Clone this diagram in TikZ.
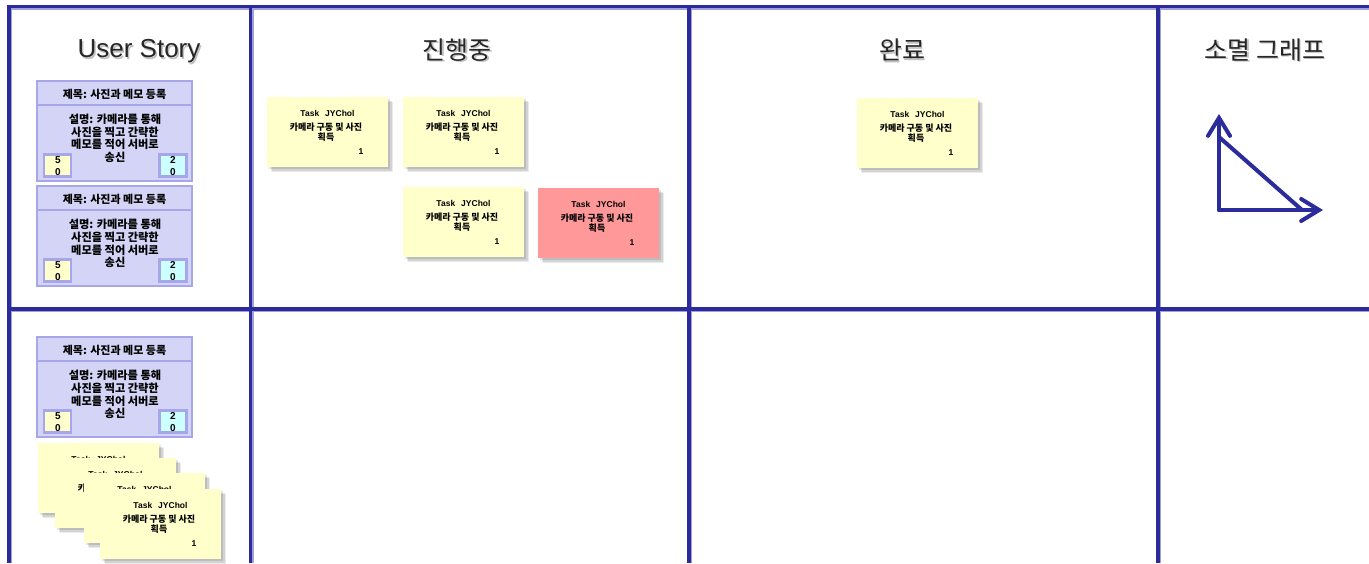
\documentclass[tikz,border=0pt]{standalone}
\usepackage{fontspec}
\setmainfont{Liberation Sans}
\newfontfamily\kr{Noto Sans CJK KR}
\usetikzlibrary{arrows.meta,shadows}
\definecolor{gridblue}{HTML}{2B2B9B}
\definecolor{gridfringe}{HTML}{A0A0DC}
\definecolor{lavfill}{HTML}{D4D4F6}
\definecolor{lavborder}{HTML}{A6A6E8}
\definecolor{noteyellow}{HTML}{FFFFCC}
\definecolor{notecyan}{HTML}{CCFFFF}
\definecolor{notered}{HTML}{FF9999}
\tikzset{
  gridline/.style={draw=gridblue,line width=3.2pt},
  fringeline/.style={draw=gridfringe,line width=1.6pt},
  storybox/.style={rectangle,draw=lavborder,fill=lavfill,line width=2.8pt,minimum width=155pt,minimum height=100pt,inner sep=0pt},
  storytitle/.style={inner sep=0pt,font=\kr\bfseries\fontsize{11}{12}\selectfont},
  storybody/.style={inner sep=0pt,align=center,font=\kr\bfseries\fontsize{11.2}{12.6}\selectfont},
  ptbox/.style={rectangle,draw=lavborder,line width=2.8pt,minimum width=27pt,minimum height=22pt,inner sep=0pt},
  digit/.style={inner sep=0pt,font=\bfseries\fontsize{10}{12}\selectfont},
  taskbox/.style={rectangle,draw=none,minimum width=121pt,minimum height=70pt,inner sep=0pt,
     general shadow={fill=black,opacity=0.10,shadow xshift=2pt,shadow yshift=-2pt},
     general shadow={fill=black,opacity=0.10,shadow xshift=3.5pt,shadow yshift=-3.5pt},
     general shadow={fill=black,opacity=0.08,shadow xshift=5pt,shadow yshift=-5pt}},
  tasktitle/.style={inner sep=0pt,font=\bfseries\fontsize{8.5}{10}\selectfont},
  tasktext/.style={inner sep=0pt,align=center,font=\kr\bfseries\fontsize{9}{9.5}\selectfont},
  header/.style={inner sep=0pt,text=black!85},
  headershadow/.style={inner sep=0pt,text=black!35,opacity=0.7},
  graphline/.style={draw=gridblue,line width=4pt,line cap=round,line join=round},
  graphtip/.style={-{Straight Barb[length=18pt,width=22pt,line cap=round]}}
}
\newcommand\storycard[3]{%
  \node[storybox] (#1) at (#2+77.5,#3+50) {};
  \coordinate (#1-sl) at (#2,#3+24);
  \coordinate (#1-sr) at (#2+155,#3+24);
  \draw[draw=lavborder,line width=2.8pt] (#1-sl) -- (#1-sr);
  \node[storytitle] (#1-title) at (#2+77.5,#3+13) {제목: 사진과 메모 등록};
  \node[storybody] (#1-body) at (#2+78,#3+57.5) {설명: 카메라를 통해\\사진을 찍고 간략한\\메모를 적어 서버로\\송신};
  \node[ptbox,fill=noteyellow] (#1-l) at (#2+20.5,#3+84.5) {};
  \node[ptbox,fill=notecyan] (#1-r) at (#2+136,#3+84.5) {};
  \node[digit] (#1-l1) at (#2+21,#3+79) {5};
  \node[digit] (#1-l2) at (#2+21,#3+91) {0};
  \node[digit] (#1-r1) at (#2+136,#3+79) {2};
  \node[digit] (#1-r2) at (#2+136,#3+91) {0};
}
% full task card
\newcommand\taskcard[4]{%
  \node[taskbox,fill=#4] (#1) at (#2+60.5,#3+35) {};
  \node[tasktitle] (#1-title) at (#2+60.5,#3+16.5) {Task\hspace{6pt}JYChol};
  \node[tasktext] (#1-text) at (#2+59,#3+35) {카메라 구동 및 사진\\획득};
  \node[tasktitle] (#1-num) at (#2+94,#3+55) {1};
}
% partly covered task card: only the visible title
\newcommand\taskcardback[3]{%
  \node[taskbox,fill=noteyellow] (#1) at (#2+60.5,#3+35) {};
  \node[tasktitle] (#1-title) at (#2+60.5,#3+16.5) {Task\hspace{6pt}JYChol};
}
\begin{document}
\begin{tikzpicture}[x=1pt,y=-1pt]
\useasboundingbox (0,0) rectangle (1369,563);
\fill[white] (0,0) rectangle (1369,563);
% grid fringes
\foreach \x in {9,250.5,689,1158} { \draw[fringeline] (\x+2.2,8.5) -- (\x+2.2,563); }
\foreach \y in {6.5,309} { \draw[fringeline] (9,\y+2.2) -- (1369,\y+2.2); }
% grid lines
\foreach \x in {9,250.5,689,1158} { \draw[gridline] (\x,5) -- (\x,563); }
\foreach \y in {6.5,309} { \draw[gridline] (7.4,\y) -- (1369,\y); }
% headers
\node[headershadow,font=\fontsize{26}{30}\selectfont] (h1s) at (140.5,53) {User Story};
\node[header,font=\fontsize{26}{30}\selectfont] (h1) at (139,51.5) {User Story};
\node[headershadow,font=\kr\fontsize{25}{30}\selectfont] (h2s) at (458.5,51.5) {진행중};
\node[header,font=\kr\fontsize{25}{30}\selectfont] (h2) at (457,50) {진행중};
\node[headershadow,font=\kr\fontsize{25}{30}\selectfont] (h3s) at (903.5,51.5) {완료};
\node[header,font=\kr\fontsize{25}{30}\selectfont] (h3) at (902,50) {완료};
\node[headershadow,font=\kr\fontsize{25}{30}\selectfont] (h4s) at (1266.5,51.5) {소멸 그래프};
\node[header,font=\kr\fontsize{25}{30}\selectfont] (h4) at (1265,50) {소멸 그래프};
% story cards
\storycard{s1}{37}{81}
\storycard{s2}{37}{186}
\storycard{s3}{37}{337}
% task cards
\taskcard{t1}{267}{97}{noteyellow}
\taskcard{t2}{403}{97}{noteyellow}
\taskcard{t3}{403}{187}{noteyellow}
\taskcard{t4}{538}{188}{notered}
\taskcard{t5}{857}{98}{noteyellow}
% stacked task cards
\taskcardback{k1}{38}{443}
\taskcard{k2}{55}{458}{noteyellow}
\taskcardback{k3}{84}{473}
\taskcard{k4}{100}{489}{noteyellow}
% burn-down graph
\coordinate (go) at (1219,210);
\coordinate (gy) at (1219,114);
\coordinate (gx) at (1323,210);
\coordinate (gd1) at (1219,137);
\coordinate (gd2) at (1302,210);
\draw[graphline,graphtip] (go) -- (gy);
\draw[graphline,graphtip] (go) -- (gx);
\draw[graphline] (gd1) -- (gd2);
\end{tikzpicture}
\end{document}
